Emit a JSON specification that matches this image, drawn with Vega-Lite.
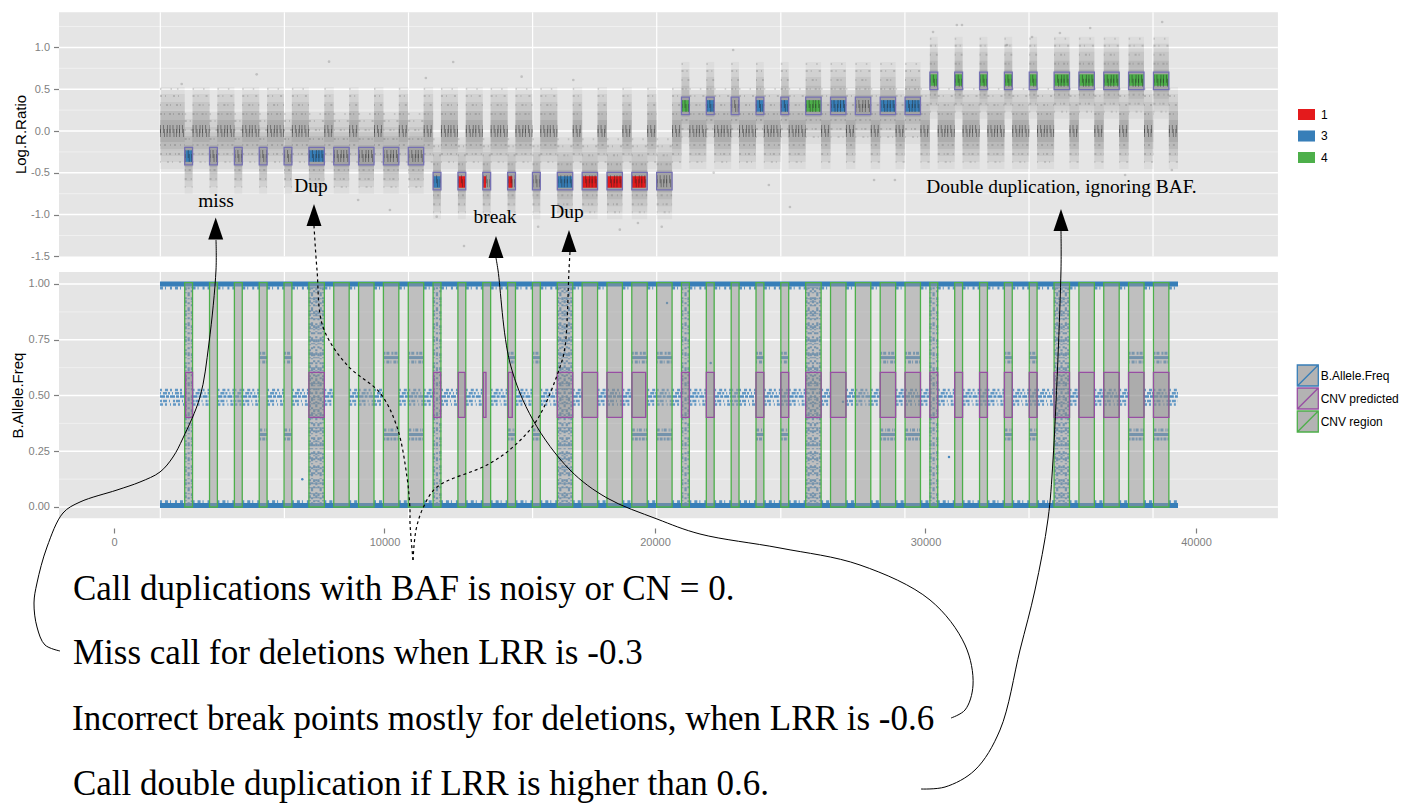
{
"$schema":"https://vega.github.io/schema/vega-lite/v6.json",
"width":1408,"height":812,"autosize":"none","padding":0,"background":"white",
"config":{"view":{"stroke":null},"axis":{"grid":false,"domain":false,"labelFont":"Liberation Sans","labelColor":"#7F7F7F","tickColor":"#7F7F7F","tickSize":5,"tickWidth":1.2,"labelPadding":4,"titleFont":"Liberation Sans"}},
"datasets":{
"segs":[
{"start":1700,"end":2614,"mean":0,"s":"flank","b":1},{"start":2904,"end":3532,"mean":0,"s":"flank","b":1},{"start":3822,"end":4451,"mean":0,"s":"flank","b":1},{"start":4741,"end":5369,"mean":0,"s":"flank","b":1},{"start":5659,"end":6287,"mean":0,"s":"flank","b":1},{"start":6577,"end":7206,"mean":0,"s":"flank","b":1},{"start":7776,"end":8124,"mean":0,"s":"flank","b":1},{"start":8694,"end":9042,"mean":0,"s":"flank","b":1},{"start":9612,"end":9960,"mean":0,"s":"flank","b":1},{"start":10530,"end":10879,"mean":0,"s":"flank","b":1},{"start":11449,"end":11797,"mean":0,"s":"flank","b":1},{"start":12087,"end":12715,"mean":0,"s":"flank","b":1},{"start":13005,"end":13634,"mean":0,"s":"flank","b":1},{"start":13924,"end":14552,"mean":0,"s":"flank","b":1},{"start":14842,"end":15470,"mean":0,"s":"flank","b":1},{"start":15760,"end":16389,"mean":0,"s":"flank","b":1},{"start":16959,"end":17307,"mean":0,"s":"flank","b":1},{"start":17877,"end":18225,"mean":0,"s":"flank","b":1},{"start":18795,"end":19143,"mean":0,"s":"flank","b":1},{"start":19713,"end":20062,"mean":0,"s":"flank","b":1},{"start":20632,"end":20980,"mean":0,"s":"flank","b":1},{"start":21270,"end":21898,"mean":0,"s":"flank","b":1},{"start":22188,"end":22817,"mean":0,"s":"flank","b":1},{"start":23107,"end":23735,"mean":0,"s":"flank","b":1},{"start":24025,"end":24653,"mean":0,"s":"flank","b":1},{"start":24943,"end":25572,"mean":0,"s":"flank","b":1},{"start":26142,"end":26490,"mean":0,"s":"flank","b":1},{"start":27060,"end":27408,"mean":0,"s":"flank","b":1},{"start":27978,"end":28326,"mean":0,"s":"flank","b":1},{"start":28896,"end":29245,"mean":0,"s":"flank","b":1},{"start":29815,"end":30163,"mean":0,"s":"flank","b":1},{"start":30453,"end":31081,"mean":0,"s":"flank","b":1},{"start":31371,"end":32000,"mean":0,"s":"flank","b":1},{"start":32290,"end":32918,"mean":0,"s":"flank","b":1},{"start":33208,"end":33836,"mean":0,"s":"flank","b":1},{"start":34126,"end":34755,"mean":0,"s":"flank","b":1},{"start":35325,"end":35673,"mean":0,"s":"flank","b":1},{"start":36243,"end":36591,"mean":0,"s":"flank","b":1},{"start":37161,"end":37509,"mean":0,"s":"flank","b":1},{"start":38079,"end":38428,"mean":0,"s":"flank","b":1},{"start":38998,"end":39336,"mean":0,"s":"flank","b":1},
{"start":2614,"end":2904,"mean":-0.3,"s":"CNV region"},{"start":3532,"end":3822,"mean":-0.3,"s":"CNV region"},{"start":4451,"end":4741,"mean":-0.3,"s":"CNV region","b":1},{"start":5369,"end":5659,"mean":-0.3,"s":"CNV region","t":1},{"start":6287,"end":6577,"mean":-0.3,"s":"CNV region","t":1},{"start":7206,"end":7776,"mean":-0.3,"s":"CNV region"},{"start":8124,"end":8694,"mean":-0.3,"s":"CNV region"},{"start":9042,"end":9612,"mean":-0.3,"s":"CNV region","b":1},{"start":9960,"end":10530,"mean":-0.3,"s":"CNV region","t":1},{"start":10879,"end":11449,"mean":-0.3,"s":"CNV region","t":1,"b":1},
{"start":11797,"end":12087,"mean":-0.6,"s":"CNV region"},{"start":12715,"end":13005,"mean":-0.6,"s":"CNV region"},{"start":13634,"end":13924,"mean":-0.6,"s":"CNV region"},{"start":14552,"end":14842,"mean":-0.6,"s":"CNV region","t":1},{"start":15470,"end":15760,"mean":-0.6,"s":"CNV region","t":1},{"start":16389,"end":16959,"mean":-0.6,"s":"CNV region"},{"start":17307,"end":17877,"mean":-0.6,"s":"CNV region"},{"start":18225,"end":18795,"mean":-0.6,"s":"CNV region","b":1},{"start":19143,"end":19713,"mean":-0.6,"s":"CNV region","t":1},{"start":20062,"end":20632,"mean":-0.6,"s":"CNV region","t":1,"b":1},
{"start":20980,"end":21270,"mean":0.3,"s":"CNV region"},{"start":21898,"end":22188,"mean":0.3,"s":"CNV region"},{"start":22817,"end":23107,"mean":0.3,"s":"CNV region","b":1},{"start":23735,"end":24025,"mean":0.3,"s":"CNV region","t":1},{"start":24653,"end":24943,"mean":0.3,"s":"CNV region","t":1,"b":1},{"start":25572,"end":26142,"mean":0.3,"s":"CNV region"},{"start":26490,"end":27060,"mean":0.3,"s":"CNV region"},{"start":27408,"end":27978,"mean":0.3,"s":"CNV region","b":1},{"start":28326,"end":28896,"mean":0.3,"s":"CNV region","t":1},{"start":29245,"end":29815,"mean":0.3,"s":"CNV region","t":1,"b":1},
{"start":30163,"end":30453,"mean":0.6,"s":"CNV region"},{"start":31081,"end":31371,"mean":0.6,"s":"CNV region"},{"start":32000,"end":32290,"mean":0.6,"s":"CNV region","b":1},{"start":32918,"end":33208,"mean":0.6,"s":"CNV region","t":1},{"start":33836,"end":34126,"mean":0.6,"s":"CNV region","t":1,"b":1},{"start":34755,"end":35325,"mean":0.6,"s":"CNV region"},{"start":35673,"end":36243,"mean":0.6,"s":"CNV region"},{"start":36591,"end":37161,"mean":0.6,"s":"CNV region","b":1},{"start":37509,"end":38079,"mean":0.6,"s":"CNV region","t":1},{"start":38428,"end":38998,"mean":0.6,"s":"CNV region","t":1,"b":1}
],
"pred":[
{"start":2650,"end":2904,"mean":-0.3,"cn":"3","s":"CNV predicted"},{"start":7206,"end":7776,"mean":-0.3,"cn":"3","s":"CNV predicted"},
{"start":11819,"end":12078,"mean":-0.61,"cn":"3","s":"CNV predicted"},{"start":12729,"end":12976,"mean":-0.61,"cn":"1","s":"CNV predicted"},{"start":13654,"end":13752,"mean":-0.61,"cn":"1","s":"CNV predicted"},{"start":14578,"end":14725,"mean":-0.61,"cn":"1","s":"CNV predicted"},{"start":16389,"end":16959,"mean":-0.61,"cn":"3","s":"CNV predicted"},{"start":17307,"end":17877,"mean":-0.61,"cn":"1","s":"CNV predicted"},{"start":18225,"end":18795,"mean":-0.61,"cn":"1","s":"CNV predicted"},{"start":19150,"end":19656,"mean":-0.61,"cn":"1","s":"CNV predicted"},
{"start":20980,"end":21270,"mean":0.3,"cn":"4","s":"CNV predicted"},{"start":21898,"end":22188,"mean":0.3,"cn":"3","s":"CNV predicted"},{"start":23735,"end":24025,"mean":0.3,"cn":"3","s":"CNV predicted"},{"start":24653,"end":24943,"mean":0.3,"cn":"3","s":"CNV predicted"},{"start":25572,"end":26142,"mean":0.3,"cn":"4","s":"CNV predicted"},{"start":26490,"end":27060,"mean":0.3,"cn":"3","s":"CNV predicted"},{"start":28326,"end":28896,"mean":0.3,"cn":"3","s":"CNV predicted"},{"start":29245,"end":29815,"mean":0.3,"cn":"3","s":"CNV predicted"},
{"start":30163,"end":30453,"mean":0.61,"cn":"4","s":"CNV predicted"},{"start":31081,"end":31371,"mean":0.61,"cn":"4","s":"CNV predicted"},{"start":32000,"end":32290,"mean":0.61,"cn":"4","s":"CNV predicted"},{"start":32918,"end":33208,"mean":0.61,"cn":"4","s":"CNV predicted"},{"start":33836,"end":34126,"mean":0.61,"cn":"4","s":"CNV predicted"},{"start":34755,"end":35325,"mean":0.61,"cn":"4","s":"CNV predicted"},{"start":35673,"end":36243,"mean":0.61,"cn":"4","s":"CNV predicted"},{"start":36591,"end":37161,"mean":0.61,"cn":"4","s":"CNV predicted"},{"start":37509,"end":38079,"mean":0.61,"cn":"4","s":"CNV predicted"},{"start":38428,"end":38998,"mean":0.61,"cn":"4","s":"CNV predicted"}
],
"noisy":[
{"x":2650,"d":"a"},{"x":2760,"d":"b"},{"x":2880,"d":"c"},{"x":11830,"d":"a"},{"x":11940,"d":"b"},{"x":12060,"d":"c"},{"x":21010,"d":"a"},{"x":21130,"d":"b"},{"x":21240,"d":"c"},{"x":30190,"d":"a"},{"x":30300,"d":"b"},{"x":30430,"d":"c"},
{"x":7240,"d":"a"},{"x":7320,"d":"b"},{"x":7400,"d":"c"},{"x":7480,"d":"a"},{"x":7560,"d":"c"},{"x":7640,"d":"b"},{"x":7730,"d":"a"},
{"x":16420,"d":"a"},{"x":16500,"d":"b"},{"x":16580,"d":"c"},{"x":16660,"d":"a"},{"x":16740,"d":"c"},{"x":16820,"d":"b"},{"x":16910,"d":"a"},
{"x":25600,"d":"a"},{"x":25680,"d":"b"},{"x":25760,"d":"c"},{"x":25840,"d":"a"},{"x":25920,"d":"c"},{"x":26000,"d":"b"},{"x":26100,"d":"a"},
{"x":34790,"d":"a"},{"x":34870,"d":"b"},{"x":34950,"d":"c"},{"x":35030,"d":"a"},{"x":35110,"d":"c"},{"x":35190,"d":"b"},{"x":35280,"d":"a"}
],
"gridV":[{"start":1712},{"start":6300},{"start":10888},{"start":15476},{"start":20064},{"start":24652},{"start":29240},{"start":33828},{"start":38412}],
"solid":[
{"c":"A","start":-1996,"y":-0.6457},{"c":"A","start":-2551,"y":-0.6188},{"c":"A","start":-2847,"y":-0.5381},{"c":"A","start":-2958,"y":-0.4305},{"c":"A","start":-2847,"y":-0.3408},{"c":"A","start":-2477,"y":-0.1794},{"c":"A","start":-1885,"y":-0.0269},{"c":"A","start":-1257,"y":0.0224},{"c":"A","start":111,"y":0.0762},{"c":"A","start":961,"y":0.1121},{"c":"A","start":1701,"y":0.157},{"c":"A","start":2181,"y":0.2242},{"c":"A","start":2551,"y":0.3094},{"c":"A","start":3179,"y":0.4933},{"c":"A","start":3512,"y":0.7354},{"c":"A","start":3771,"y":1.0628},{"c":"A","start":3771,"y":1.1973},
{"c":"D","start":30944,"y":-0.9462},{"c":"D","start":31462,"y":-0.9103},{"c":"D","start":31758,"y":-0.7982},{"c":"D","start":31462,"y":-0.6188},{"c":"D","start":30168,"y":-0.417},{"c":"D","start":27580,"y":-0.2601},{"c":"D","start":24622,"y":-0.1839},{"c":"D","start":21664,"y":-0.1211},{"c":"D","start":20075,"y":-0.0538},{"c":"D","start":18226,"y":0.0404},{"c":"D","start":16858,"y":0.1659},{"c":"D","start":15490,"y":0.3901},{"c":"D","start":14640,"y":0.6457},{"c":"D","start":14196,"y":1.0628},{"c":"D","start":14122,"y":1.1166},
{"c":"E","start":29835,"y":-1.2646},{"c":"E","start":30722,"y":-1.2556},{"c":"E","start":31831,"y":-1.1794},{"c":"E","start":32755,"y":-1.0},{"c":"E","start":33495,"y":-0.6413},{"c":"E","start":34049,"y":-0.3722},{"c":"E","start":34530,"y":-0.0538},{"c":"E","start":34715,"y":0.2108},{"c":"E","start":35010,"y":1.0628},{"c":"E","start":35010,"y":1.2377}
],
"dashed":[
{"c":"B","start":11054,"y":-0.2377},{"c":"B","start":10943,"y":-0.0717},{"c":"B","start":10943,"y":-0.0135},{"c":"B","start":10832,"y":0.1345},{"c":"B","start":10463,"y":0.3587},{"c":"B","start":9834,"y":0.5112},{"c":"B","start":8614,"y":0.6368},{"c":"B","start":7727,"y":0.8072},{"c":"B","start":7505,"y":1.0628},{"c":"B","start":7394,"y":1.2601},
{"c":"C","start":11054,"y":-0.2377},{"c":"C","start":11165,"y":-0.1031},{"c":"C","start":11424,"y":-0.0045},{"c":"C","start":11941,"y":0.0897},{"c":"C","start":13790,"y":0.1883},{"c":"C","start":14751,"y":0.2691},{"c":"C","start":15638,"y":0.3901},{"c":"C","start":16489,"y":0.6278},{"c":"C","start":16674,"y":0.7175},{"c":"C","start":16821,"y":1.0628},{"c":"C","start":16858,"y":1.1435}
],
"stray":[
{"x":2502,"y":0.562},{"x":5275,"y":0.678},{"x":7950,"y":0.829},{"x":12540,"y":0.825},{"x":15070,"y":0.65},{"x":11530,"y":0.634},{"x":11930,"y":-1.025},{"x":15680,"y":-1.145},{"x":12940,"y":-1.376},{"x":9025,"y":-0.825},{"x":10200,"y":-0.945},{"x":16980,"y":0.61},{"x":22890,"y":0.969},{"x":22170,"y":-0.5},{"x":24210,"y":-0.646},{"x":24990,"y":-0.909},{"x":19370,"y":-1.1},{"x":18700,"y":-1.18},{"x":20250,"y":-1.145},{"x":30280,"y":1.184},{"x":31160,"y":1.268},{"x":38750,"y":1.304},{"x":36090,"y":1.232},{"x":31350,"y":1.268},{"x":33940,"y":1.124},{"x":34970,"y":1.172},{"x":33010,"y":1.029},{"x":28100,"y":-0.586},{"x":28870,"y":-0.586},{"x":37380,"y":-0.526},{"x":39110,"y":-0.466}
]
},
"resolve":{"scale":{"y":"independent"}},
"layer":[
{"layer":[
{"data":{"values":[{"start":-2033,"end":43030,"top":1.42,"bottom":-1.5}]},"mark":{"type":"rect","fill":"#E5E5E5"},
 "encoding":{
  "x":{"field":"start","type":"quantitative","scale":{"domain":[-4214.6,47839],"range":[0,1408],"nice":false,"zero":false},"title":null,"axis":{"orient":"bottom","offset":-284,"values":[0,10000,20000,30000,40000],"format":"d","title":null,"labelFontSize":11,"labelPadding":3}},
  "x2":{"field":"end"},
  "y":{"field":"top","type":"quantitative","scale":{"domain":[1.567,-8.146],"range":[0,812],"nice":false,"zero":false},"axis":{"orient":"left","offset":-58.5,"values":[1,0.5,0,-0.5,-1,-1.5],"format":".1f","labelExpr":"replace(datum.label,'−','-')","labelFontSize":11,"title":"Log.R.Ratio","titleFontSize":15,"titleFontWeight":"normal","titleColor":"black","titleX":-38.5,"titleY":134,"titleAlign":"center","titleBaseline":"middle"}},
  "y2":{"field":"bottom"}}},
{"data":{"values":[{"y":1.25},{"y":0.75},{"y":0.25},{"y":-0.25},{"y":-0.75},{"y":-1.25}]},"mark":{"type":"rule","stroke":"#F2F2F2","strokeWidth":0.8},"encoding":{"x":{"datum":-2033},"x2":{"datum":43030},"y":{"field":"y","type":"quantitative"}}},
{"data":{"values":[{"y":1},{"y":0.5},{"y":0},{"y":-0.5},{"y":-1}]},"mark":{"type":"rule","stroke":"white","strokeWidth":1.5},"encoding":{"x":{"datum":-2033},"x2":{"datum":43030},"y":{"field":"y","type":"quantitative"}}},
{"data":{"name":"gridV"},"mark":{"type":"rule","stroke":"white","strokeWidth":1.2},"encoding":{"x":{"field":"start","type":"quantitative"},"y":{"datum":1.42},"y2":{"datum":-1.5}}},
{"data":{"name":"segs"},"mark":{"type":"rule","stroke":"#555","strokeWidth":82,"opacity":0.06,"yOffset":-3},"encoding":{"x":{"field":"start","type":"quantitative"},"x2":{"field":"end"},"y":{"field":"mean","type":"quantitative"}}},
{"data":{"name":"segs"},"mark":{"type":"rule","stroke":"#555","strokeWidth":68,"opacity":0.08,"yOffset":-3},"encoding":{"x":{"field":"start","type":"quantitative"},"x2":{"field":"end"},"y":{"field":"mean","type":"quantitative"}}},
{"data":{"name":"segs"},"mark":{"type":"rule","stroke":"#555","strokeWidth":54,"opacity":0.09,"yOffset":-2},"encoding":{"x":{"field":"start","type":"quantitative"},"x2":{"field":"end"},"y":{"field":"mean","type":"quantitative"}}},
{"data":{"name":"segs"},"mark":{"type":"rule","stroke":"#555","strokeWidth":38,"opacity":0.1,"yOffset":-1},"encoding":{"x":{"field":"start","type":"quantitative"},"x2":{"field":"end"},"y":{"field":"mean","type":"quantitative"}}},
{"data":{"name":"segs"},"mark":{"type":"rule","stroke":"#555","strokeWidth":22,"opacity":0.12},"encoding":{"x":{"field":"start","type":"quantitative"},"x2":{"field":"end"},"y":{"field":"mean","type":"quantitative"}}},
{"data":{"name":"segs"},"mark":{"type":"rule","stroke":"#555","strokeWidth":2,"opacity":0.2,"yOffset":-42,"strokeDash":[1.5,9,1.5,5]},"encoding":{"x":{"field":"start","type":"quantitative"},"x2":{"field":"end"},"y":{"field":"mean","type":"quantitative"}}},
{"data":{"name":"segs"},"mark":{"type":"rule","stroke":"#555","strokeWidth":2,"opacity":0.24,"yOffset":-35,"strokeDash":[2,3,1,7]},"encoding":{"x":{"field":"start","type":"quantitative"},"x2":{"field":"end"},"y":{"field":"mean","type":"quantitative"}}},
{"data":{"name":"segs"},"mark":{"type":"rule","stroke":"#555","strokeWidth":2,"opacity":0.24,"yOffset":-26,"strokeDash":[1,5,2,2]},"encoding":{"x":{"field":"start","type":"quantitative"},"x2":{"field":"end"},"y":{"field":"mean","type":"quantitative"}}},
{"data":{"name":"segs"},"mark":{"type":"rule","stroke":"#555","strokeWidth":2,"opacity":0.24,"yOffset":-17,"strokeDash":[2,2,1,4]},"encoding":{"x":{"field":"start","type":"quantitative"},"x2":{"field":"end"},"y":{"field":"mean","type":"quantitative"}}},
{"data":{"name":"segs"},"mark":{"type":"rule","stroke":"#555","strokeWidth":2,"opacity":0.24,"yOffset":14,"strokeDash":[1,3,2,4]},"encoding":{"x":{"field":"start","type":"quantitative"},"x2":{"field":"end"},"y":{"field":"mean","type":"quantitative"}}},
{"data":{"name":"segs"},"mark":{"type":"rule","stroke":"#555","strokeWidth":2,"opacity":0.24,"yOffset":23,"strokeDash":[2,4,1,2]},"encoding":{"x":{"field":"start","type":"quantitative"},"x2":{"field":"end"},"y":{"field":"mean","type":"quantitative"}}},
{"data":{"name":"segs"},"mark":{"type":"rule","stroke":"#555","strokeWidth":2,"opacity":0.2,"yOffset":31,"strokeDash":[1,6,2,3]},"encoding":{"x":{"field":"start","type":"quantitative"},"x2":{"field":"end"},"y":{"field":"mean","type":"quantitative"}}},
{"data":{"name":"stray"},"mark":{"type":"point","filled":true,"color":"#555","size":7,"opacity":0.25},"encoding":{"x":{"field":"x","type":"quantitative"},"y":{"field":"y","type":"quantitative"}}},
{"data":{"name":"segs"},"transform":[{"filter":"datum.s=='CNV region'"}],"mark":{"type":"rect","fill":"#999","height":17.4,"opacity":0.55},"encoding":{"x":{"field":"start","type":"quantitative"},"x2":{"field":"end"},"y":{"field":"mean","type":"quantitative"}}},
{"data":{"name":"pred"},"mark":{"type":"rect","height":11.5},"encoding":{"x":{"field":"start","type":"quantitative"},"x2":{"field":"end"},"y":{"field":"mean","type":"quantitative"},"color":{"field":"cn","type":"nominal","scale":{"domain":["1","3","4"],"range":["#E41A1C","#377EB8","#4DAF4A"]},"legend":{"orient":"none","legendX":1298,"legendY":106,"title":null,"symbolType":"M-1,-0.65H1V0.65H-1Z","symbolSize":289,"symbolStrokeWidth":0,"symbolOpacity":1,"rowPadding":6.5,"labelFont":"Liberation Sans","labelFontSize":12,"labelColor":"black","labelOffset":6}}}},
{"data":{"name":"segs"},"mark":{"type":"rule","stroke":"#222","strokeWidth":8,"strokeDash":[1,2,1,3,1,1.5],"opacity":0.42,"yOffset":-2},"encoding":{"x":{"field":"start","type":"quantitative"},"x2":{"field":"end"},"y":{"field":"mean","type":"quantitative"}}},
{"data":{"name":"segs"},"mark":{"type":"rule","stroke":"#222","strokeWidth":8,"strokeDash":[1,3,1,1.5,1,2],"opacity":0.42,"yOffset":2},"encoding":{"x":{"field":"start","type":"quantitative"},"x2":{"field":"end"},"y":{"field":"mean","type":"quantitative"}}},
{"data":{"name":"segs"},"transform":[{"filter":"datum.s=='CNV region'"}],"mark":{"type":"rect","filled":false,"stroke":"#7570B3","strokeWidth":1.3,"height":17.4},"encoding":{"x":{"field":"start","type":"quantitative"},"x2":{"field":"end"},"y":{"field":"mean","type":"quantitative"}}}
]},
{"layer":[
{"data":{"values":[{"start":-2033,"end":43030,"top":1.054,"bottom":-0.05}]},"mark":{"type":"rect","fill":"#E5E5E5"},
 "encoding":{
  "x":{"field":"start","type":"quantitative"},"x2":{"field":"end"},
  "y":{"field":"top","type":"quantitative","scale":{"domain":[2.2735,-1.3677],"range":[0,812],"nice":false,"zero":false},"axis":{"orient":"left","offset":-58.5,"values":[1,0.75,0.5,0.25,0],"format":".2f","labelFontSize":11,"title":"B.Allele.Freq","titleFontSize":15,"titleFontWeight":"normal","titleColor":"black","titleX":-41,"titleY":395,"titleAlign":"center","titleBaseline":"middle"}},
  "y2":{"field":"bottom"}}},
{"data":{"values":[{"y":0.875},{"y":0.625},{"y":0.375},{"y":0.125}]},"mark":{"type":"rule","stroke":"#F2F2F2","strokeWidth":0.8},"encoding":{"x":{"datum":-2033},"x2":{"datum":43030},"y":{"field":"y","type":"quantitative"}}},
{"data":{"values":[{"y":1},{"y":0.75},{"y":0.5},{"y":0.25},{"y":0}]},"mark":{"type":"rule","stroke":"white","strokeWidth":1.5},"encoding":{"x":{"datum":-2033},"x2":{"datum":43030},"y":{"field":"y","type":"quantitative"}}},
{"data":{"name":"gridV"},"mark":{"type":"rule","stroke":"white","strokeWidth":1.2},"encoding":{"x":{"field":"start","type":"quantitative"},"y":{"datum":1.054},"y2":{"datum":-0.05}}},
{"data":{"values":[{"y":1.0},{"y":0.007}]},"mark":{"type":"rule","stroke":"#377EB8","strokeWidth":5},"encoding":{"x":{"datum":1700},"x2":{"datum":39336},"y":{"field":"y","type":"quantitative"}}},
{"data":{"name":"segs"},"transform":[{"filter":"datum.s=='flank'"}],"mark":{"type":"rule","stroke":"#377EB8","strokeWidth":3,"strokeDash":[3,2,1,4,2,3],"opacity":0.8},"encoding":{"x":{"field":"start","type":"quantitative"},"x2":{"field":"end"},"y":{"datum":0.982}}},
{"data":{"name":"segs"},"transform":[{"filter":"datum.s=='flank'"}],"mark":{"type":"rule","stroke":"#377EB8","strokeWidth":3,"strokeDash":[2,3,3,2,1,4],"opacity":0.8},"encoding":{"x":{"field":"start","type":"quantitative"},"x2":{"field":"end"},"y":{"datum":0.024}}},
{"data":{"name":"segs"},"transform":[{"filter":"datum.b"}],"mark":{"type":"rule","stroke":"#377EB8","strokeWidth":2.5,"strokeDash":[3,2,2,3,1,2],"opacity":0.75},"encoding":{"x":{"field":"start","type":"quantitative"},"x2":{"field":"end"},"y":{"datum":0.46}}},
{"data":{"name":"segs"},"transform":[{"filter":"datum.b"}],"mark":{"type":"rule","stroke":"#377EB8","strokeWidth":2.5,"strokeDash":[2,1,4,2,1,3],"opacity":0.75},"encoding":{"x":{"field":"start","type":"quantitative"},"x2":{"field":"end"},"y":{"datum":0.475}}},
{"data":{"name":"segs"},"transform":[{"filter":"datum.b"}],"mark":{"type":"rule","stroke":"#377EB8","strokeWidth":2.5,"strokeDash":[5,1,3,1],"opacity":0.85},"encoding":{"x":{"field":"start","type":"quantitative"},"x2":{"field":"end"},"y":{"datum":0.495}}},
{"data":{"name":"segs"},"transform":[{"filter":"datum.b"}],"mark":{"type":"rule","stroke":"#377EB8","strokeWidth":2.5,"strokeDash":[1,2,4,1,2,2],"opacity":0.75},"encoding":{"x":{"field":"start","type":"quantitative"},"x2":{"field":"end"},"y":{"datum":0.51}}},
{"data":{"name":"segs"},"transform":[{"filter":"datum.b"}],"mark":{"type":"rule","stroke":"#377EB8","strokeWidth":2.5,"strokeDash":[2,3,3,2],"opacity":0.75},"encoding":{"x":{"field":"start","type":"quantitative"},"x2":{"field":"end"},"y":{"datum":0.525}}},
{"data":{"name":"segs"},"transform":[{"filter":"datum.t"}],"mark":{"type":"rule","stroke":"#377EB8","strokeWidth":3,"strokeDash":[2,1,3,1],"opacity":0.8},"encoding":{"x":{"field":"start","type":"quantitative"},"x2":{"field":"end"},"y":{"datum":0.305}}},
{"data":{"name":"segs"},"transform":[{"filter":"datum.t"}],"mark":{"type":"rule","stroke":"#377EB8","strokeWidth":3,"opacity":0.85},"encoding":{"x":{"field":"start","type":"quantitative"},"x2":{"field":"end"},"y":{"datum":0.325}}},
{"data":{"name":"segs"},"transform":[{"filter":"datum.t"}],"mark":{"type":"rule","stroke":"#377EB8","strokeWidth":3,"strokeDash":[3,2,1,1],"opacity":0.8},"encoding":{"x":{"field":"start","type":"quantitative"},"x2":{"field":"end"},"y":{"datum":0.345}}},
{"data":{"name":"segs"},"transform":[{"filter":"datum.t"}],"mark":{"type":"rule","stroke":"#377EB8","strokeWidth":3,"strokeDash":[1,2,3,1],"opacity":0.8},"encoding":{"x":{"field":"start","type":"quantitative"},"x2":{"field":"end"},"y":{"datum":0.65}}},
{"data":{"name":"segs"},"transform":[{"filter":"datum.t"}],"mark":{"type":"rule","stroke":"#377EB8","strokeWidth":3,"opacity":0.85},"encoding":{"x":{"field":"start","type":"quantitative"},"x2":{"field":"end"},"y":{"datum":0.67}}},
{"data":{"name":"segs"},"transform":[{"filter":"datum.t"}],"mark":{"type":"rule","stroke":"#377EB8","strokeWidth":3,"strokeDash":[2,1,3,2],"opacity":0.8},"encoding":{"x":{"field":"start","type":"quantitative"},"x2":{"field":"end"},"y":{"datum":0.69}}},
{"data":{"name":"noisy"},"mark":{"type":"rule","stroke":"#377EB8","strokeWidth":2.2,"opacity":0.85},"encoding":{"x":{"field":"x","type":"quantitative"},"y":{"datum":0.985},"y2":{"datum":0.015},"strokeDash":{"field":"d","type":"nominal","legend":null,"scale":{"domain":["a","b","c"],"range":[[3,2,1,4,2,1],[2,3,4,2,1,3],[1,2,2,5,3,1]]}}}},
{"data":{"values":[{"x":6961,"y":0.124},{"x":20445,"y":0.915},{"x":22060,"y":0.646},{"x":30870,"y":0.224},{"x":26950,"y":0.472}]},"mark":{"type":"point","filled":true,"color":"#377EB8","size":6,"opacity":0.9},"encoding":{"x":{"field":"x","type":"quantitative"},"y":{"field":"y","type":"quantitative"}}},
{"data":{"name":"segs"},"transform":[{"filter":"datum.s=='CNV region'"}],"mark":{"type":"rect","fill":"#999","opacity":0.5},"encoding":{"x":{"field":"start","type":"quantitative"},"x2":{"field":"end"},"y":{"datum":1.006},"y2":{"datum":0}}},
{"data":{"name":"pred"},"mark":{"type":"rect","fill":"#808080","opacity":0.3},"encoding":{"x":{"field":"start","type":"quantitative"},"x2":{"field":"end"},"y":{"datum":0.604},"y2":{"datum":0.402}}},
{"data":{"name":"segs"},"transform":[{"filter":"datum.s=='CNV region'"}],"mark":{"type":"rect","filled":false,"strokeWidth":1.3},"encoding":{"x":{"field":"start","type":"quantitative"},"x2":{"field":"end"},"y":{"datum":1.006},"y2":{"datum":0},"stroke":{"field":"s","type":"nominal"}}},
{"data":{"name":"pred"},"mark":{"type":"rect","filled":false,"strokeWidth":1.3},"encoding":{"x":{"field":"start","type":"quantitative"},"x2":{"field":"end"},"y":{"datum":0.604},"y2":{"datum":0.402},"stroke":{"field":"s","type":"nominal","scale":{"domain":["B.Allele.Freq","CNV predicted","CNV region"],"range":["#377EB8","#984EA3","#4DAF4A"]},"legend":{"orient":"none","legendX":1298.3,"legendY":366,"title":null,"symbolType":"M-1.235,-1.235H1.235V1.235H-1.235Z M-1.235,1.235L1.235,-1.235","symbolSize":289,"symbolFillColor":"#B3B3B3","symbolStrokeWidth":1.3,"rowPadding":-5,"labelFont":"Liberation Sans","labelFontSize":12,"labelColor":"black","labelOffset":3.4}}}}
]},
{"layer":[
{"data":{"name":"solid"},"mark":{"type":"line","color":"black","strokeWidth":1,"interpolate":"catmull-rom"},"encoding":{"x":{"field":"start","type":"quantitative"},"y":{"field":"y","type":"quantitative","axis":null,"scale":{"domain":[2.2735,-1.3677],"range":[0,812],"nice":false,"zero":false}},"detail":{"field":"c"},"order":{"value":null}}},
{"data":{"name":"dashed"},"mark":{"type":"line","color":"black","strokeWidth":1.2,"strokeDash":[3,3],"interpolate":"catmull-rom"},"encoding":{"x":{"field":"start","type":"quantitative"},"y":{"field":"y","type":"quantitative"},"detail":{"field":"c"},"order":{"value":null}}},
{"data":{"values":[{"start":3760,"y":1.2489},{"start":7394,"y":1.3094},{"start":14122,"y":1.166},{"start":16821,"y":1.1928},{"start":35010,"y":1.287}]},"mark":{"type":"point","filled":true,"color":"black","opacity":1,"shape":"M0,-1L0.68,1L-0.68,1Z","size":484},"encoding":{"x":{"field":"start","type":"quantitative"},"y":{"field":"y","type":"quantitative"}}},
{"data":{"values":[{"start":-1516,"y":-0.3677,"t":"Call duplications with BAF is noisy or CN = 0."},{"start":-1516,"y":-0.6547,"t":"Miss call for deletions when LRR is -0.3"},{"start":-1553,"y":-0.9507,"t":"Incorrect break points mostly for deletions, when LRR is -0.6"},{"start":-1516,"y":-1.2422,"t":"Call double duplication if LRR is higher than 0.6."}]},"mark":{"type":"text","font":"Liberation Serif","fontSize":35,"align":"left","baseline":"middle","color":"black"},"encoding":{"x":{"field":"start","type":"quantitative"},"y":{"field":"y","type":"quantitative"},"text":{"field":"t"}}},
{"data":{"values":[{"start":3771,"y":1.372,"t":"miss"},{"start":7283,"y":1.4395,"t":"Dup"},{"start":14086,"y":1.3004,"t":"break"},{"start":16747,"y":1.3229,"t":"Dup"},{"start":35029,"y":1.435,"t":"Double duplication, ignoring BAF."}]},"mark":{"type":"text","font":"Liberation Serif","fontSize":19.4,"align":"center","baseline":"middle","color":"black"},"encoding":{"x":{"field":"start","type":"quantitative"},"y":{"field":"y","type":"quantitative"},"text":{"field":"t"}}}
]}
]
}
